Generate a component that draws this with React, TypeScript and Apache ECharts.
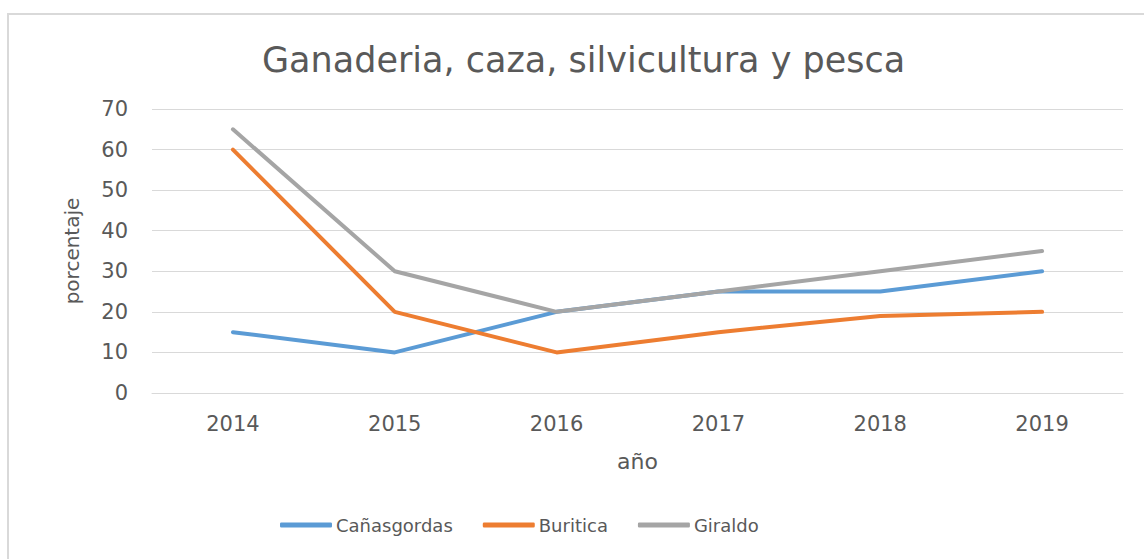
import React, { useEffect, useRef } from "react";
import * as echarts from "echarts";

const years = ["2014", "2015", "2016", "2017", "2018", "2019"];
const canasgordas = [15, 10, 20, 25, 25, 30];
const buritica = [60, 20, 10, 15, 19, 20];
const giraldo = [65, 30, 20, 25, 30, 35];

const textColor = "#595959";
const font = "DejaVu Sans";

export default function App() {
  const ref = useRef<HTMLDivElement>(null);
  useEffect(() => {
    const chart = echarts.init(ref.current!, null, { renderer: "svg" });
    chart.setOption({
      animation: false,
      backgroundColor: "#fff",
      textStyle: { fontFamily: font, color: textColor },
      graphic: [
        {
          type: "rect",
          shape: { x: 8, y: 14, width: 1150, height: 560 },
          style: { fill: "none", stroke: "#d9d9d9", lineWidth: 2 },
          silent: true,
        },
      ],
      title: {
        text: "Ganaderia, caza, silvicultura y pesca",
        left: 257,
        top: 37,
        textStyle: { fontFamily: font, fontSize: 35, fontWeight: "normal", color: textColor },
      },
      legend: {
        bottom: 20,
        left: 275,
        icon: "roundRect",
        itemWidth: 52,
        itemHeight: 5,
        itemGap: 30,
        textStyle: { fontFamily: font, fontSize: 18, color: textColor, padding: [0, 0, 0, -1] },
        data: ["Cañasgordas", "Buritica", "Giraldo"],
      },
      grid: { left: 152, right: 21, top: 109, bottom: 166 },
      xAxis: {
        type: "category",
        data: years,
        boundaryGap: true,
        name: "año",
        nameLocation: "middle",
        nameGap: 57,
        nameTextStyle: { fontFamily: font, fontSize: 22, color: textColor },
        axisLine: { lineStyle: { color: "#d9d9d9" } },
        axisTick: { show: false },
        axisLabel: { margin: 20, fontSize: 21, color: textColor, fontFamily: font },
      },
      yAxis: {
        type: "value",
        min: 0,
        max: 70,
        interval: 10,
        name: "porcentaje",
        nameLocation: "middle",
        nameGap: 70,
        nameRotate: 90,
        nameTextStyle: { fontFamily: font, fontSize: 20, color: textColor },
        axisLine: { show: false },
        axisTick: { show: false },
        splitLine: { lineStyle: { color: "#d9d9d9", width: 1 } },
        axisLabel: { margin: 24, fontSize: 21, color: textColor, fontFamily: font },
      },
      series: [
        { name: "Cañasgordas", type: "line", data: canasgordas, color: "#5b9bd5", showSymbol: false, lineStyle: { width: 4, cap: "round" } },
        { name: "Buritica", type: "line", data: buritica, color: "#ed7d31", showSymbol: false, lineStyle: { width: 4, cap: "round" } },
        { name: "Giraldo", type: "line", data: giraldo, color: "#a5a5a5", showSymbol: false, lineStyle: { width: 4, cap: "round" } },
      ],
    });
    return () => chart.dispose();
  }, []);
  return <div ref={ref} style={{ position: "fixed", left: 0, top: 0, width: 1144, height: 559 }} />;
}
